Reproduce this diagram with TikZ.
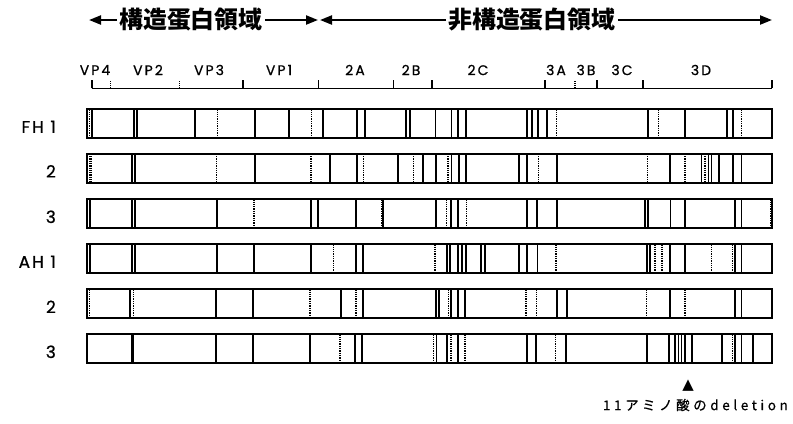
\documentclass[tikz,border=0pt]{standalone}
\usepackage{fontspec}
\usetikzlibrary{arrows.meta}
\setmainfont{Poppins}
\newfontfamily\labfont{Poppins}[LetterSpace=15,FakeBold=0.8]
\newfontfamily\rowfont{Poppins}[LetterSpace=12,FakeBold=0.8]
\newfontfamily\hdrfont{Noto Sans CJK JP}
\newfontfamily\notefont{Noto Sans CJK JP}[LetterSpace=27,FakeBold=0.6]
\newfontfamily\symfont{DejaVu Sans}
\tikzset{
  barbox/.style={draw, line width=2.1bp, minimum width=685.5bp, minimum height=29bp, anchor=north west, inner sep=0pt, outer sep=0pt},
  seg/.style={line width=1.8bp},
  dseg/.style={line width=1.3bp, densely dotted},
  rul/.style={line width=1.6bp},
  dtick/.style={line width=1.2bp, densely dotted},
  seglab/.style={font=\labfont\fontsize{14}{16}\selectfont, inner sep=0pt},
  rowlab/.style={font=\rowfont\fontsize{17}{19}\selectfont, anchor=east, inner sep=0pt},
  hdr/.style={font=\hdrfont\bfseries\fontsize{24}{26}\selectfont, inner sep=2pt},
  harrow/.style={line width=2.2bp, -{Triangle[length=12bp,width=9bp]}},
}
\newcommand\bandrow[5]{%
  \node[barbox] (#1) at (86.7,#2) {};
  \foreach \xx in {#3} \draw[seg] (\xx,#2) -- (\xx,#2+29);
  \foreach \xx in {#4} \draw[dseg] (\xx,#2) -- (\xx,#2+29);
  \node[rowlab] (#1lab) at (56,#2+17.5) {#5};
}
\begin{document}
\begin{tikzpicture}[x=1bp,y=-1bp]
\useasboundingbox (0,0) rectangle (793,423);
% header
\node[hdr, anchor=west] (h1) at (117,20) {構造蛋白領域};
\node[hdr, anchor=west] (h2) at (446,20) {非構造蛋白領域};
\coordinate (a1) at (89,20);
\coordinate (jr) at (318,20);
\coordinate (jl) at (320,20);
\coordinate (a2) at (772,20);
\draw[harrow] (h1.west) -- (a1);
\draw[harrow] (h1.east) -- (jr);
\draw[harrow] (h2.west) -- (jl);
\draw[harrow] (h2.east) -- (a2);
% ruler
\coordinate (rl) at (91.7,88.3);
\coordinate (rr) at (771.7,88.3);
\draw[rul] (rl) -- (rr);
\foreach \xx in {91.7,242.7,318.3,393.3,431.7,545,596.7,642.7,771.7}
  \draw[rul] (\xx,88.3) -- (\xx,79.5);
\foreach \xx in {110.7,179.3,575}
  \draw[dtick] (\xx,88.3) -- (\xx,80.5);
\node[seglab] (lvp4) at (95,70) {VP4};
\node[seglab] (lvp2) at (148,70) {VP2};
\node[seglab] (lvp3) at (209,70) {VP3};
\node[seglab] (lvp1) at (279,70) {VP1};
\node[seglab] (l2a) at (355,70) {2A};
\node[seglab] (l2b) at (411,70) {2B};
\node[seglab] (l2c) at (478,70) {2C};
\node[seglab] (l3a) at (556,70) {3A};
\node[seglab] (l3b) at (586,70) {3B};
\node[seglab] (l3c) at (622,70) {3C};
\node[seglab] (l3d) at (701,70) {3D};
% rows
\bandrow{fh1}{109.3}{92,134.3,136.7,195,255.3,289.3,323.3,356.7,365,406,410,435.5,451.5,458.3,466,527,531.7,538.3,546.7,648,685,726.7,733.3}{89.3,217.3,311.7,556.7,658.3,741.5}{FH 1}
\bandrow{fh2}{153.8}{131.7,135,255.3,330,356.7,398.3,423.3,436,451.5,459,466,519.3,526.7,556.7,670,701.5,708.5,711.5,719,733.3,741.5}{90,91.5,216.7,311,363.3,413.3,448,538.3,647.5,685,705}{2}
\bandrow{fh3}{199.3}{90,131.7,135,216.7,311,318.3,356,383.3,436,451,458.3,526.7,537,556.7,645,647.7,670.5,685,735,741.5}{254,381.7,446.7,466.5,770.5}{3}
\bandrow{ah1}{244.2}{90,131.7,135,216.7,254,311,356,363.3,446.7,450,458.3,461.7,465.8,481,485,518.7,526.7,537.5,646.7,650,670,685,735,741.5}{333.3,435,556,655,662,711.7,732.5}{AH 1}
\bandrow{ah2}{289.3}{130,215.7,253.3,341,363.3,436,439.3,451,458.3,465,556.7,566.7,670,735,741.5}{89.3,133.3,310,356,448.3,526,536.7,646.7,685}{2}
\bandrow{ah3}{334.3}{131.7,133.3,215.7,253.3,310,355,361.7,436.5,446.7,458.3,526.7,536,566,646.7,669,675,678.5,681.5,685,691.7,721.7,735,741.5,753.3}{340,433.3,451,465,555.5,732.5}{3}
% deletion mark
\node[font=\symfont\fontsize{15}{15}\selectfont, inner sep=0pt] (tri) at (688,386) {▲};
\node[font=\notefont\fontsize{13.5}{15}\selectfont, anchor=east, inner sep=0pt] (note) at (788,405) {11アミノ酸のdeletion};
\end{tikzpicture}
\end{document}
